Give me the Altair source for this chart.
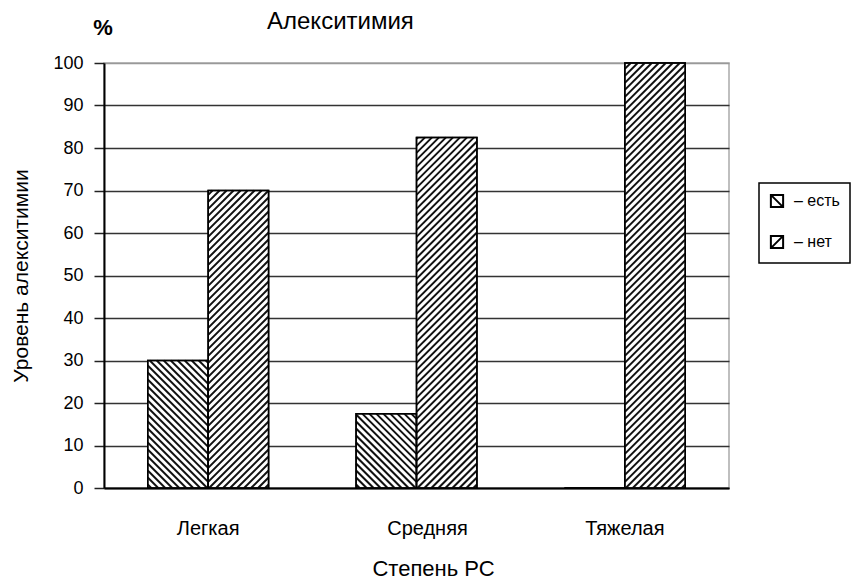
import altair as alt
import pandas as pd

categories = ["Легкая", "Средняя", "Тяжелая"]
series = ["есть", "нет"]
yes_values = [30, 17.5, 0]
no_values = [70, 82.5, 100]
y_ticks = [0, 10, 20, 30, 40, 50, 60, 70, 80, 90, 100]

W, H = 625, 425
PAD_INNER = 0.42
HATCH_STEP = 7.0  # horizontal period of the hatching, px

rows = []
for i, c in enumerate(categories):
    rows.append({"cat": c, "series": series[0], "value": yes_values[i], "idx": i})
    rows.append({"cat": c, "series": series[1], "value": no_values[i], "idx": i})
bars_df = pd.DataFrame(rows)

# hatching segments derived from the bar values (in data units)
step_px = W / len(categories)
ypx = H / 100.0
bw = (1 - PAD_INNER) / 2
hatch = []
for r in rows:
    start = r["idx"] + PAD_INNER / 2 + (0 if r["series"] == series[0] else bw)
    x0, x1 = start * step_px, (start + bw) * step_px
    vpx = r["value"] * ypx
    if vpx <= 0:
        continue
    if r["series"] == series[0]:
        c = x0 + HATCH_STEP / 2
        while c < x1 + vpx:
            xa, xb = max(x0, c - vpx), min(x1, c)
            if xb > xa:
                hatch.append({"hx": xa / step_px, "hy": (c - xa) / ypx,
                              "hx2": xb / step_px, "hy2": (c - xb) / ypx})
            c += HATCH_STEP
    else:
        k = -x1 + HATCH_STEP / 2
        while k < vpx - x0:
            xa, xb = max(x0, -k), min(x1, vpx - k)
            if xb > xa:
                hatch.append({"hx": xa / step_px, "hy": (xa + k) / ypx,
                              "hx2": xb / step_px, "hy2": (xb + k) / ypx})
            k += HATCH_STEP
hatch_df = pd.DataFrame(hatch)

FONT = "Liberation Sans"

band_scale = alt.Scale(domain=categories, paddingInner=PAD_INNER, paddingOuter=PAD_INNER / 2)
x_axis = alt.Axis(title="Степень РС", orient="bottom", labelAngle=0, ticks=False,
                  labelPadding=30, labelFontSize=20, labelColor="black",
                  labelOffset={"condition": {"test": "datum.value === 'Средняя'", "value": 11},
                               "value": 0},
                  titleFontSize=22, titlePadding=20, titleFontWeight="normal",
                  titleX=329, titleAlign="center",
                  titleColor="black", domainColor="black", domainWidth=2)
x_main = alt.X("cat:N", sort=categories, scale=band_scale, axis=x_axis)
x_hidden = alt.X("cat:N", sort=categories, scale=band_scale, axis=None)
xo_enc = alt.XOffset("series:N", scale=alt.Scale(domain=series))
y_scale = alt.Scale(domain=[0, 100], nice=False)

y_axis = alt.Axis(values=y_ticks, tickSize=10, tickColor="#222", tickWidth=1.5,
                  labelFontSize=18, labelColor="black", labelPadding=11,
                  domainColor="black", domainWidth=2, grid=True,
                  gridColor={"condition": {"test": "datum.value === 100", "value": "#999"},
                             "value": "#333"},
                  gridWidth=1.5,
                  title="Уровень алекситимии", titleFontSize=21,
                  titleFontWeight="normal", titleColor="black", titlePadding=21)

base = alt.Chart(bars_df)

bars = base.mark_bar(fill="white", stroke="black", strokeWidth=1.5).encode(
    x=x_main, xOffset=xo_enc, y=alt.Y("value:Q", scale=y_scale, axis=y_axis))

hatch_layer = alt.Chart(hatch_df).mark_rule(color="#111", strokeWidth=2).encode(
    x=alt.X("hx:Q", scale=alt.Scale(domain=[0, len(categories)], nice=False, zero=False), axis=None),
    x2="hx2:Q",
    y=alt.Y("hy:Q", scale=y_scale, axis=y_axis),
    y2="hy2:Q")

outline = base.mark_bar(fill="white", fillOpacity=0, stroke="black", strokeWidth=1.5).encode(
    x=x_hidden, xOffset=xo_enc, y=alt.Y("value:Q", scale=y_scale, axis=y_axis))

legend_paths = ["M-1,-1L1,-1L1,1L-1,1ZM-1,-1L1,1", "M-1,-1L1,-1L1,1L-1,1ZM-1,1L1,-1"]
points = base.mark_point(opacity=0, color="black").encode(
    x=x_hidden, xOffset=xo_enc, y=alt.Y("value:Q", scale=y_scale, axis=y_axis),
    shape=alt.Shape("series:N", scale=alt.Scale(domain=series, range=legend_paths),
                    legend=alt.Legend(title=None, orient="none", legendX=655, legendY=120,
                                      labelExpr="'– ' + datum.label",
                                      labelFontSize=16, labelColor="black", labelOffset=9,
                                      symbolSize=150, symbolStrokeWidth=2,
                                      symbolStrokeColor="black", symbolFillColor="white",
                                      symbolOpacity=1, padding=10, rowPadding=19,
                                      strokeColor="black")))

pct = alt.Chart(pd.DataFrame({"t": ["%"]})).mark_text(
    fontSize=22, fontWeight="bold", color="black", font=FONT).encode(
    text="t:N", x=alt.value(-1), y=alt.value(-35))

chart = alt.layer(bars, hatch_layer, outline, points, pct).resolve_scale(
    x="independent").properties(
    width=W, height=H,
    autosize=alt.AutoSizeParams(type="none"),
    padding={"left": 96, "top": 55, "right": 122, "bottom": 92},
    title=alt.TitleParams("Алекситимия", anchor="start", frame="group", dx=163,
                          offset=-36, baseline="alphabetic", fontSize=24,
                          fontWeight="normal", color="black", font=FONT)
).configure(font=FONT).configure_view(stroke="#aaa", strokeWidth=1.5
).configure_legend(strokeWidth=1.5)

chart.save("out.html", embed_options={"renderer": "svg", "actions": False})
